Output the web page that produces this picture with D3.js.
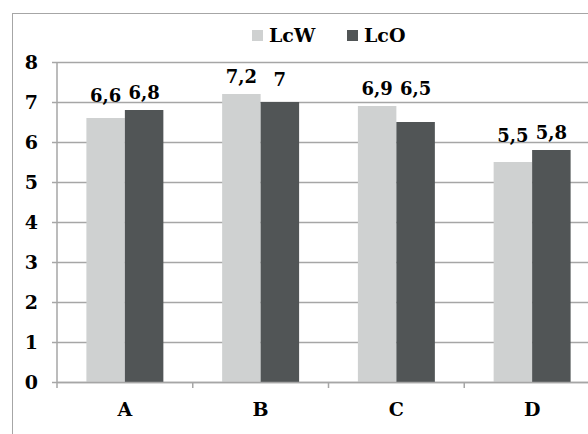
<!DOCTYPE html>
<html>
<head>
<meta charset="utf-8">
<script src="https://cdn.jsdelivr.net/npm/d3@7"></script>
<style>
  html, body { margin: 0; padding: 0; background: #fff; }
  svg { display: block; }
</style>
</head>
<body>
<svg id="chart" width="588" height="434"></svg>
<script>
// Chart data
const categories = ["A", "B", "C", "D"];
const seriesNames = ["LcW", "LcO"];
const lcwValues = [6.6, 7.2, 6.9, 5.5];
const lcoValues = [6.8, 7.0, 6.5, 5.8];
const valueLabels = [["6,6", "7,2", "6,9", "5,5"], ["6,8", "7", "6,5", "5,8"]];
const yTicks = [0, 1, 2, 3, 4, 5, 6, 7, 8];
const seriesColors = ["#cfd1d1", "#515556"];

const seriesValues = [lcwValues, lcoValues];
const FONT = "DejaVu Serif";

const svg = d3.select("#chart");

// Outer chart frame (runs off the right and bottom edges)
svg.append("rect")
  .attr("x", 12.5).attr("y", 13.5)
  .attr("width", 620).attr("height", 460)
  .attr("fill", "#fff")
  .attr("stroke", "#a6a6a6").attr("stroke-width", 1);

const plot = { left: 57, right: 600, top: 62, bottom: 382 };

const x = d3.scaleBand().domain(categories).range([plot.left, plot.right]).padding(0);
const bw = x.bandwidth();
const gap = bw * 0.2165;
const x1 = d3.scaleBand().domain(seriesNames).range([gap, bw - gap]).padding(0);
const y = d3.scaleLinear().domain([0, 8]).range([plot.bottom, plot.top]);

// Horizontal gridlines with short outer ticks
const yAxis = d3.axisLeft(y)
  .tickValues(yTicks)
  .tickSize(-(plot.right - plot.left))
  .tickSizeOuter(0)
  .tickFormat(d3.format("d"));

const gy = svg.append("g")
  .attr("transform", `translate(${plot.left},0)`)
  .call(yAxis)
  .attr("font-family", FONT).attr("font-weight", "bold");
gy.select(".domain").remove();
gy.selectAll(".tick line")
  .attr("x1", -5)
  .attr("stroke", "#a6a6a6").attr("stroke-width", 1.5);
gy.selectAll(".tick text")
  .attr("x", -19)
  .attr("font-size", 19)
  .attr("dy", "0.34em");

// Bars
const groups = svg.append("g").selectAll("g")
  .data(categories)
  .join("g")
  .attr("transform", c => `translate(${x(c)},0)`);

groups.selectAll("rect")
  .data((c, i) => seriesNames.map((s, k) => ({ s, k, v: seriesValues[k][i] })))
  .join("rect")
  .attr("x", d => x1(d.s))
  .attr("y", d => y(d.v))
  .attr("width", x1.bandwidth())
  .attr("height", d => y(0) - y(d.v))
  .attr("fill", d => seriesColors[d.k]);

// Value labels, aligned on a line above the taller bar of each group
groups.selectAll("text.val")
  .data((c, i) => {
    const top = Math.max(lcwValues[i], lcoValues[i]);
    return seriesNames.map((s, k) => ({ s, k, v: seriesValues[k][i], top, label: valueLabels[k][i] }));
  })
  .join("text")
  .attr("class", "val")
  .attr("font-family", FONT).attr("font-weight", "bold")
  .attr("x", d => x1(d.s) + x1.bandwidth() / 2)
  .attr("y", d => y(d.top) - 11 + (d.v < d.top && d.top - d.v < 0.3 ? 3 : 0))
  .attr("text-anchor", "middle")
  .attr("font-size", 18)
  .text(d => d.label);

// Axis lines
svg.append("line")
  .attr("x1", plot.left).attr("x2", plot.left)
  .attr("y1", plot.top).attr("y2", plot.bottom + 6)
  .attr("stroke", "#a6a6a6").attr("stroke-width", 1.5);

const xAxis = d3.axisBottom(x).tickSize(0).tickPadding(0);
const gx = svg.append("g")
  .attr("transform", `translate(0,${plot.bottom})`)
  .call(xAxis)
  .attr("font-family", FONT).attr("font-weight", "bold");
gx.select(".domain").attr("stroke", "#a6a6a6").attr("stroke-width", 1.5);
gx.selectAll(".tick text")
  .attr("y", 34)
  .attr("dy", 0)
  .attr("font-size", 19);

// Category boundary ticks
svg.append("g").selectAll("line")
  .data(categories.slice(1))
  .join("line")
  .attr("x1", c => x(c)).attr("x2", c => x(c))
  .attr("y1", plot.bottom).attr("y2", plot.bottom + 6)
  .attr("stroke", "#a6a6a6").attr("stroke-width", 1.5);

// Legend
const legendX = [252, 347];
const legend = svg.append("g").selectAll("g")
  .data(seriesNames)
  .join("g")
  .attr("transform", (d, i) => `translate(${legendX[i]},30)`);
legend.append("rect")
  .attr("width", 11).attr("height", 11)
  .attr("fill", (d, i) => seriesColors[i]);
legend.append("text")
  .attr("font-family", FONT).attr("font-weight", "bold")
  .attr("x", 17).attr("y", 12)
  .attr("font-size", 19)
  .text(d => d);
</script>
</body>
</html>
